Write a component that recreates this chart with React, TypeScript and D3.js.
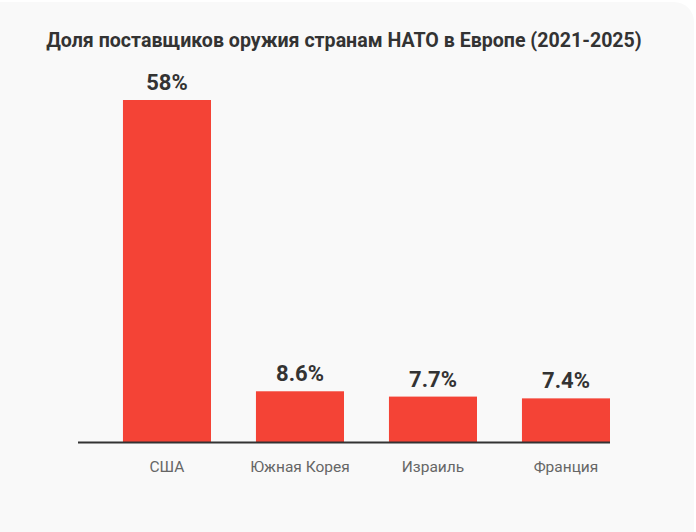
import { useEffect, useRef } from "react";
import * as d3 from "d3";

const categories = ["США", "Южная Корея", "Израиль", "Франция"];
const shares = [58, 8.6, 7.7, 7.4];
const valueLabels = ["58%", "8.6%", "7.7%", "7.4%"];
const title = "Доля поставщиков оружия странам НАТО в Европе (2021-2025)";

export default function App() {
    const svgRef = useRef<SVGSVGElement>(null);

    useEffect(() => {
        if (!svgRef.current) return;
        const W = 696, H = 532;
        const svg = d3.select(svgRef.current);
        svg.selectAll("*").remove();

        // card background
        svg.append("rect").attr("x", -30).attr("y", 2).attr("width", 724).attr("height", 560)
            .attr("rx", 20).attr("fill", "#f9f9f9");

        svg.append("text").attr("x", 344).attr("y", 47).attr("text-anchor", "middle")
            .attr("fill", "#333").style("font-family", "Roboto").style("font-size", "19.6px").style("font-weight", 700)
            .text(title);

        const x = d3.scaleBand().domain(categories).range([78, 610])
            .paddingInner(0.338).paddingOuter(0.169).align(1);
        const y = d3.scaleLinear().domain([0, 58]).range([442, 100]);

        const data = categories.map((c, i) => ({ c, v: shares[i], label: valueLabels[i] }));

        svg.append("g").selectAll("rect").data(data).join("rect")
            .attr("x", d => x(d.c)!).attr("width", x.bandwidth())
            .attr("y", d => y(d.v)).attr("height", d => y(0) - y(d.v))
            .attr("fill", "#f44336");

        svg.append("line").attr("x1", 78).attr("x2", 610).attr("y1", y(0) + 0.5).attr("y2", y(0) + 0.5)
            .attr("stroke", "#333").attr("stroke-width", 2);

        svg.append("g").selectAll("text").data(data).join("text")
            .attr("x", d => x(d.c)! + x.bandwidth() / 2).attr("y", d => y(d.v) - 10)
            .attr("text-anchor", "middle").attr("fill", "#333")
            .style("font-family", "Roboto").style("font-size", "22px").style("font-weight", 700)
            .text(d => d.label);

        svg.append("g").selectAll("text").data(data).join("text")
            .attr("x", d => x(d.c)! + x.bandwidth() / 2).attr("y", y(0) + 30)
            .attr("text-anchor", "middle").attr("fill", "#666")
            .style("font-family", "Roboto").style("font-size", "15.5px")
            .text(d => d.c);

        svg.attr("width", W).attr("height", H);
    }, []);

    return (
        <svg ref={svgRef} width={696} height={532}
            style={{ position: "absolute", left: 0, top: 0, background: "#fff", display: "block" }} />
    );
}
